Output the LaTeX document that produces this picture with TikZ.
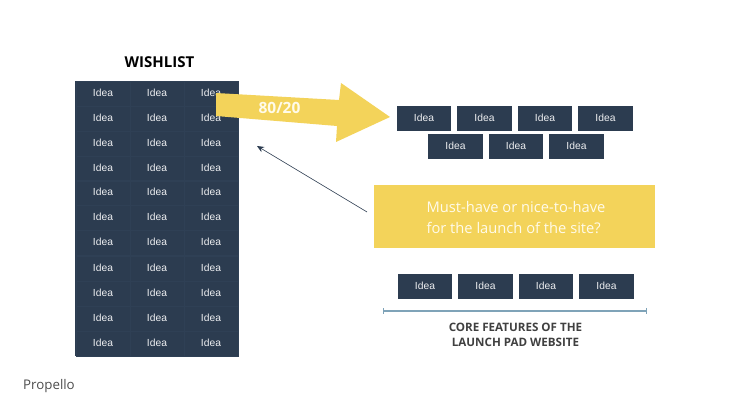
\documentclass[tikz,border=0pt]{standalone}
\usepackage{fontspec}
\setmainfont{Open Sans}
\newfontfamily\ideafont{Liberation Sans}
\usetikzlibrary{arrows.meta}
\definecolor{slate}{HTML}{2C3C50}
\definecolor{gridline}{HTML}{2F4055}
\definecolor{gold}{HTML}{F3D35A}
\definecolor{cream}{HTML}{FFFBEA}
\definecolor{barblue}{HTML}{7FA3B8}

\begin{document}
\begin{tikzpicture}[x=1pt, y=-1pt,
    cell/.style = {draw=gridline, line width=0.4pt, text=white!92!slate, font=\ideafont\fontsize{10.3}{11}\selectfont, minimum width=54pt, minimum height=25pt, inner sep=0pt, text height=9pt, text depth=2pt},
    card/.style = {cell, draw=none, fill=slate, minimum width=54.5pt},
    heading/.style = {font=\bfseries\fontsize{11.6}{15}\selectfont, text=black!75, align=center}]
                \useasboundingbox (0, 0) rectangle (731, 411);

                \node[heading, text=black, font=\bfseries\fontsize{15}{15}\selectfont] at (159.5, 62) (wishtitle) {WISHLIST};
                \node[fill=slate, minimum width=164pt, minimum height=275pt, inner sep=0pt] at (157, 218.5) (wishlist) {};

                \node[cell] at (103, 93.5) (a1) {Idea};
                \node[cell] at (157, 93.5) (b1) {Idea};
                \node[cell] at (211, 93.5) (c1) {Idea};
                \node[cell] at (103, 118.5) (a2) {Idea};
                \node[cell] at (157, 118.5) (b2) {Idea};
                \node[cell] at (211, 118.5) (c2) {Idea};
                \node[cell] at (103, 143.5) (a3) {Idea};
                \node[cell] at (157, 143.5) (b3) {Idea};
                \node[cell] at (211, 143.5) (c3) {Idea};
                \node[cell] at (103, 168.5) (a4) {Idea};
                \node[cell] at (157, 168.5) (b4) {Idea};
                \node[cell] at (211, 168.5) (c4) {Idea};
                \node[cell] at (103, 192.5) (a5) {Idea};
                \node[cell] at (157, 192.5) (b5) {Idea};
                \node[cell] at (211, 192.5) (c5) {Idea};
                \node[cell] at (103, 217.5) (a6) {Idea};
                \node[cell] at (157, 217.5) (b6) {Idea};
                \node[cell] at (211, 217.5) (c6) {Idea};
                \node[cell] at (103, 242.5) (a7) {Idea};
                \node[cell] at (157, 242.5) (b7) {Idea};
                \node[cell] at (211, 242.5) (c7) {Idea};
                \node[cell] at (103, 268.5) (a8) {Idea};
                \node[cell] at (157, 268.5) (b8) {Idea};
                \node[cell] at (211, 268.5) (c8) {Idea};
                \node[cell] at (103, 293.5) (a9) {Idea};
                \node[cell] at (157, 293.5) (b9) {Idea};
                \node[cell] at (211, 293.5) (c9) {Idea};
                \node[cell] at (103, 318.5) (a10) {Idea};
                \node[cell] at (157, 318.5) (b10) {Idea};
                \node[cell] at (211, 318.5) (c10) {Idea};
                \node[cell] at (103, 343.5) (a11) {Idea};
                \node[cell] at (157, 343.5) (b11) {Idea};
                \node[cell] at (211, 343.5) (c11) {Idea};

                \fill [gold] (216, 93) -- (339, 100) -- (341, 83) -- (390, 117) -- (336, 142) -- (337, 126) -- (216, 116) -- cycle;
                \node[text=cream, font=\bfseries\fontsize{15.5}{15.5}\selectfont] at (279.5, 108) (ratio) {80/20};

                \node[card] at (424, 118.5) (p1) {Idea};
                \node[card] at (484.5, 118.5) (p2) {Idea};
                \node[card] at (545, 118.5) (p3) {Idea};
                \node[card] at (605.5, 118.5) (p4) {Idea};
                \node[card] at (455.5, 146.5) (q1) {Idea};
                \node[card] at (516, 146.5) (q2) {Idea};
                \node[card] at (576.5, 146.5) (q3) {Idea};

                \node[fill=gold, minimum width=281pt, minimum height=63pt, inner sep=0pt] at (514.5, 216.5) (question) {};
                \node[text=cream, align=left, font=\fontsize{14.7}{21}\selectfont] at (516, 217.5) (asktext) {Must-have or nice-to-have\\for the launch of the site?};

                \node[card] at (425, 286.5) (r1) {Idea};
                \node[card] at (485.5, 286.5) (r2) {Idea};
                \node[card] at (546, 286.5) (r3) {Idea};
                \node[card] at (606.5, 286.5) (r4) {Idea};

                \coordinate (asktail) at (367, 212);
                \coordinate (askhead) at (257, 146);
                \coordinate (barleft) at (383, 311);
                \coordinate (barright) at (647, 311);

                \draw [-{Stealth[length=7pt, width=6pt]}, slate, line width=0.6pt] (asktail) -- (askhead);
                \draw [{Bar[width=6pt]}-{Bar[width=6pt]}, barblue, line width=1.3pt] (barleft) -- (barright);

                \node[heading] at (515.5, 335) (corelabel) {CORE FEATURES OF THE\\LAUNCH PAD WEBSITE};
                \node[text=black!70, font=\fontsize{13.3}{13.3}\selectfont, anchor=west, inner sep=0pt] at (23, 386) (brand) {Propello};
                \end{tikzpicture}
\end{document}
